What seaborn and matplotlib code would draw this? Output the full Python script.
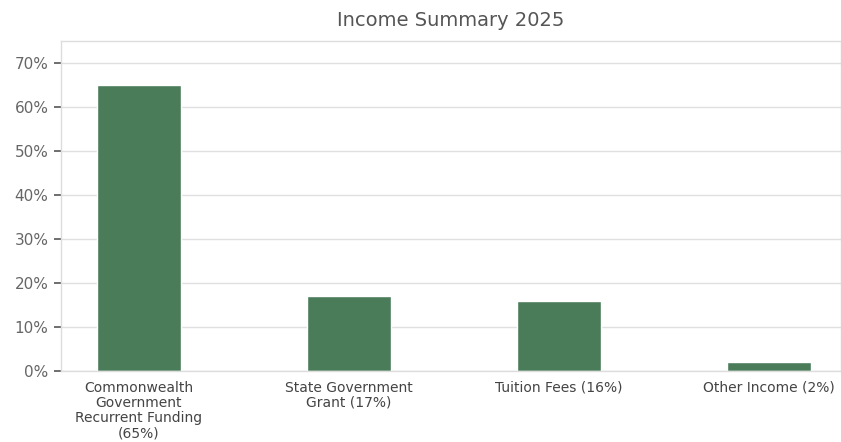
import matplotlib
matplotlib.use("Agg")
import matplotlib.pyplot as plt
import seaborn as sns
import pandas as pd
from matplotlib.ticker import FuncFormatter

categories = ["Commonwealth\nGovernment\nRecurrent Funding\n(65%)",
              "State Government\nGrant (17%)",
              "Tuition Fees (16%)",
              "Other Income (2%)"]
values = [65, 17, 16, 2]

df = pd.DataFrame({"cat": categories, "val": values})

sns.set_theme(style="whitegrid")
plt.rcParams['font.family'] = ['DejaVu Sans']

fig = plt.figure(figsize=(8.41, 4.42), dpi=100)
ax = fig.add_axes([61/841, 1 - 371/442, (841 - 61)/841, (371 - 41)/442])
sns.barplot(data=df, x="cat", y="val", color="#4a7c59", width=0.4, ax=ax, saturation=1)

ax.set_ylim(0, 75)
ax.set_xlim(-0.37, 3.345)
ax.set_yticks([0, 10, 20, 30, 40, 50, 60, 70])
ax.yaxis.set_major_formatter(FuncFormatter(lambda v, p: f"{int(v)}%"))
ax.set_xlabel("")
ax.set_ylabel("")
ax.grid(axis="y", color="#e0e0e0", linewidth=1)
ax.grid(axis="x", visible=False)
for s in ["left", "top", "bottom", "right"]:
    ax.spines[s].set_color("#dddddd")
    ax.spines[s].set_linewidth(1)
ax.tick_params(axis="y", left=True, length=5, width=1.2, color="#555555", labelcolor="#666666", labelsize=11, pad=4)
ax.tick_params(axis="x", bottom=False, labelcolor="#444444", labelsize=10, pad=1)
for lab in ax.get_xticklabels():
    lab.set_linespacing(1.1)
ax.set_title("Income Summary 2025", fontsize=14, color="#555555", pad=11)

fig.savefig("out.png", dpi=100)
